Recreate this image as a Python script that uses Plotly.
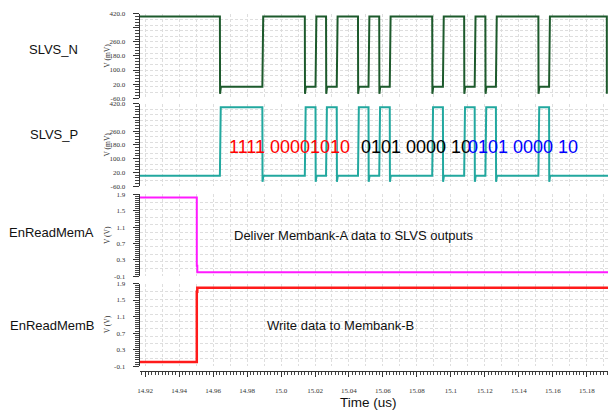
import plotly.graph_objects as go

W, H = 613, 415

# ---- time window (us) ----
t_start, t_end = 14.9167, 15.1925

# ---- SLVS pair: edge instants (us); P starts low, N starts high, each edge toggles ----
slvs_edges_us = [14.9640, 14.9890, 15.0140, 15.0203, 15.0265, 15.0328,
                 15.0453, 15.0515, 15.0578, 15.0640, 15.0890, 15.0953,
                 15.1078, 15.1140, 15.1203, 15.1265, 15.1515, 15.1578]
slvs_n_end_drop_us = 15.1918     # N output collapses at the end of the run
slvs_n_levels_mv = [405, 5]      # high, low
slvs_p_levels_mv = [400, 0]      # high, low
slvs_undershoot_mv = -35

# ---- memory-bank enables ----
en_switch_us = [14.9504, 14.9507]
en_a_levels_v = [1.82, 0.16, 0.0]
en_b_levels_v = [0.0, 1.70, 1.80]

# ---- axis ticks ----
mv_tick0, mv_dtick, mv_minor = -60, 80, 16
v_tick0, v_dtick, v_minor = -0.1, 0.4, 0.05
time_tick0, time_dtick, time_minor = 14.92, 0.02, 0.002

# ---- bit pattern labels ----
bits_red = "1111 00001010"
bits_black = "0101 0000 10"
bits_blue = "0101 0000 10"


def differential(edges, levels, start_high, undershoot, rise=0.0005, ring=0.0005):
    """Step waveform with a short undershoot after each falling edge."""
    hi, lo = levels
    xs, ys = [t_start], [hi if start_high else lo]
    high = start_high
    for e in edges:
        if high:
            xs += [e, e + 0.0001, e + 0.0001 + ring]
            ys += [hi, undershoot, lo]
        else:
            xs += [e, e + rise]
            ys += [lo, hi]
        high = not high
    return xs, ys, high


def enable(levels):
    a, b, c = levels
    xs = [t_start, en_switch_us[0], en_switch_us[0], en_switch_us[1], en_switch_us[1], t_end]
    ys = [a, a, b, b, c, c]
    return xs, ys


nx, ny, n_high = differential(slvs_edges_us, slvs_n_levels_mv, True, slvs_undershoot_mv)
nx += [slvs_n_end_drop_us, slvs_n_end_drop_us]
ny += [slvs_n_levels_mv[0], slvs_undershoot_mv]
px_, py_, p_high = differential(slvs_edges_us, slvs_p_levels_mv, False, slvs_undershoot_mv)
px_.append(t_end)
py_.append(slvs_p_levels_mv[0] if p_high else slvs_p_levels_mv[1])
ax_, ay_ = enable(en_a_levels_v)
bx_, by_ = enable(en_b_levels_v)

fig = go.Figure()
fig.add_trace(go.Scatter(x=nx, y=ny, mode="lines", line=dict(color="#1d5a2c", width=2),
                         xaxis="x", yaxis="y", hoverinfo="skip"))
fig.add_trace(go.Scatter(x=px_, y=py_, mode="lines", line=dict(color="#22a89f", width=2),
                         xaxis="x2", yaxis="y2", hoverinfo="skip"))
fig.add_trace(go.Scatter(x=ax_, y=ay_, mode="lines", line=dict(color="#ff1aff", width=2),
                         xaxis="x3", yaxis="y3", hoverinfo="skip"))
fig.add_trace(go.Scatter(x=bx_, y=by_, mode="lines", line=dict(color="#ff1a1a", width=2.5),
                         xaxis="x4", yaxis="y4", hoverinfo="skip"))

# empty traces that register the tick/ruler overlay axes
for xa, ya in [("x", "y5"), ("x2", "y6"), ("x3", "y7"), ("x4", "y8"), ("x5", "y4")]:
    fig.add_trace(go.Scatter(x=[t_start, t_end], y=[None, None], mode="lines",
                             xaxis=xa, yaxis=ya, hoverinfo="skip", showlegend=False))


def py(p):
    return 1 - p / H


def pxf(p):
    return p / W


x_dom = [pxf(138), pxf(608)]
mv_alias = {"340.0": " ", "\u221260.0": "-60.0"}
v_alias = {"\u22120.1": "-0.1"}
panels = [
    (10, 96, [-60, 420], 32, mv_tick0, mv_dtick, mv_minor, mv_alias),
    (101.7, 185.7, [-60, 420], 32, mv_tick0, mv_dtick, mv_minor, mv_alias),
    (194, 277.7, [-0.1, 1.9], 0.18, v_tick0, v_dtick, v_minor, v_alias),
    (285, 369.3, [-0.1, 1.9], 0.18, v_tick0, v_dtick, v_minor, v_alias),
]

grid_col = "#dedede"
axis_col = "#333333"
minor_col = "#444444"
tick_font = dict(family="Liberation Serif", size=7, color="#333333")

layout = dict(
    width=W, height=H, margin=dict(l=0, r=0, t=0, b=0),
    paper_bgcolor="white", plot_bgcolor="white", showlegend=False,
)

for i, (top, bot, rng, gdt, t0, dt, mdt, alias) in enumerate(panels):
    n = i + 1
    xk = "xaxis" if n == 1 else f"xaxis{n}"
    yk = "yaxis" if n == 1 else f"yaxis{n}"
    xref = "x" if n == 1 else f"x{n}"
    yref = "y" if n == 1 else f"y{n}"
    layout[xk] = dict(domain=x_dom, range=[t_start, t_end], anchor=yref,
                      showgrid=True, gridcolor=grid_col, griddash="3px,2px", gridwidth=1,
                      dtick=0.01, tick0=14.92, showticklabels=False, ticks="",
                      zeroline=False, showline=False,
                      **({} if n == 1 else {"matches": "x"}))
    layout[yk] = dict(domain=[py(bot), py(top)], range=rng, anchor=xref,
                      showgrid=True, gridcolor=grid_col, griddash="3px,2px", gridwidth=1,
                      dtick=gdt, tick0=rng[0], showticklabels=False, ticks="",
                      zeroline=False, showline=False)
    layout[f"yaxis{n + 4}"] = dict(
        overlaying=yref, anchor=xref, side="left", range=rng,
        tickmode="linear", tick0=t0, dtick=dt, tickformat=".1f", labelalias=alias,
        ticks="outside", ticklen=6, tickcolor=axis_col,
        showline=True, linecolor=axis_col, linewidth=1,
        minor=dict(ticks="outside", ticklen=4, dtick=mdt, tick0=t0, tickcolor=minor_col),
        showgrid=False, zeroline=False, tickfont=tick_font, ticklabelstandoff=6,
    )

layout["xaxis5"] = dict(
    overlaying="x4", anchor="free", position=py(374), range=[t_start, t_end],
    tickmode="linear", tick0=time_tick0, dtick=time_dtick, labelalias={"15": "15.0"},
    ticks="outside", ticklen=5, tickcolor=axis_col, tickangle=0,
    minor=dict(ticks="outside", ticklen=3, dtick=time_minor, tick0=time_tick0,
               tickcolor=minor_col),
    showline=True, linecolor=axis_col, linewidth=1,
    showgrid=False, zeroline=False, tickfont=tick_font, ticklabelstandoff=8,
)

fig.update_layout(**layout)

ann = []
sans = "Liberation Sans, Arial, sans-serif"
for text, x, y in [("SLVS_N", 52, 46.7), ("SLVS_P", 52, 133.3),
                   ("EnReadMemA", 50, 233.3), ("EnReadMemB", 50.3, 328.3)]:
    ann.append(dict(text=text, x=pxf(x), y=py(y), xref="paper", yref="paper",
                    showarrow=False, xanchor="center", yanchor="middle",
                    font=dict(family=sans, size=13, color="#111111")))
for text, y in [("V (mV)", 53), ("V (mV)", 143.7), ("V (V)", 236), ("V (V)", 327)]:
    ann.append(dict(text=text, x=pxf(106), y=py(y), xref="paper", yref="paper",
                    showarrow=False, textangle=-90, xanchor="center", yanchor="middle",
                    font=dict(family="Liberation Serif", size=7.5, color="#333333")))
for text, x, col in [(bits_red, 226, "#ff0000"), (bits_black, 358, "#000000"),
                     (bits_blue, 466, "#0000ff")]:
    ann.append(dict(text=text, x=pxf(x), y=py(145.7), xref="paper", yref="paper",
                    showarrow=False, xanchor="left", yanchor="middle",
                    font=dict(family=sans, size=18, color=col)))
ann.append(dict(text="Deliver Membank-A data to SLVS outputs", x=pxf(352.5), y=py(236),
                xref="paper", yref="paper", showarrow=False, xanchor="center",
                yanchor="middle", font=dict(family=sans, size=13, color="#111111")))
ann.append(dict(text="Write data to Membank-B", x=pxf(340), y=py(328),
                xref="paper", yref="paper", showarrow=False, xanchor="center",
                yanchor="middle", font=dict(family=sans, size=13, color="#111111")))
ann.append(dict(text="Time (us)", x=pxf(368), y=py(406), xref="paper", yref="paper",
                showarrow=False, xanchor="center", yanchor="middle",
                font=dict(family=sans, size=13.5, color="#111111")))
fig.update_layout(annotations=ann)

fig.write_html("out.html")
